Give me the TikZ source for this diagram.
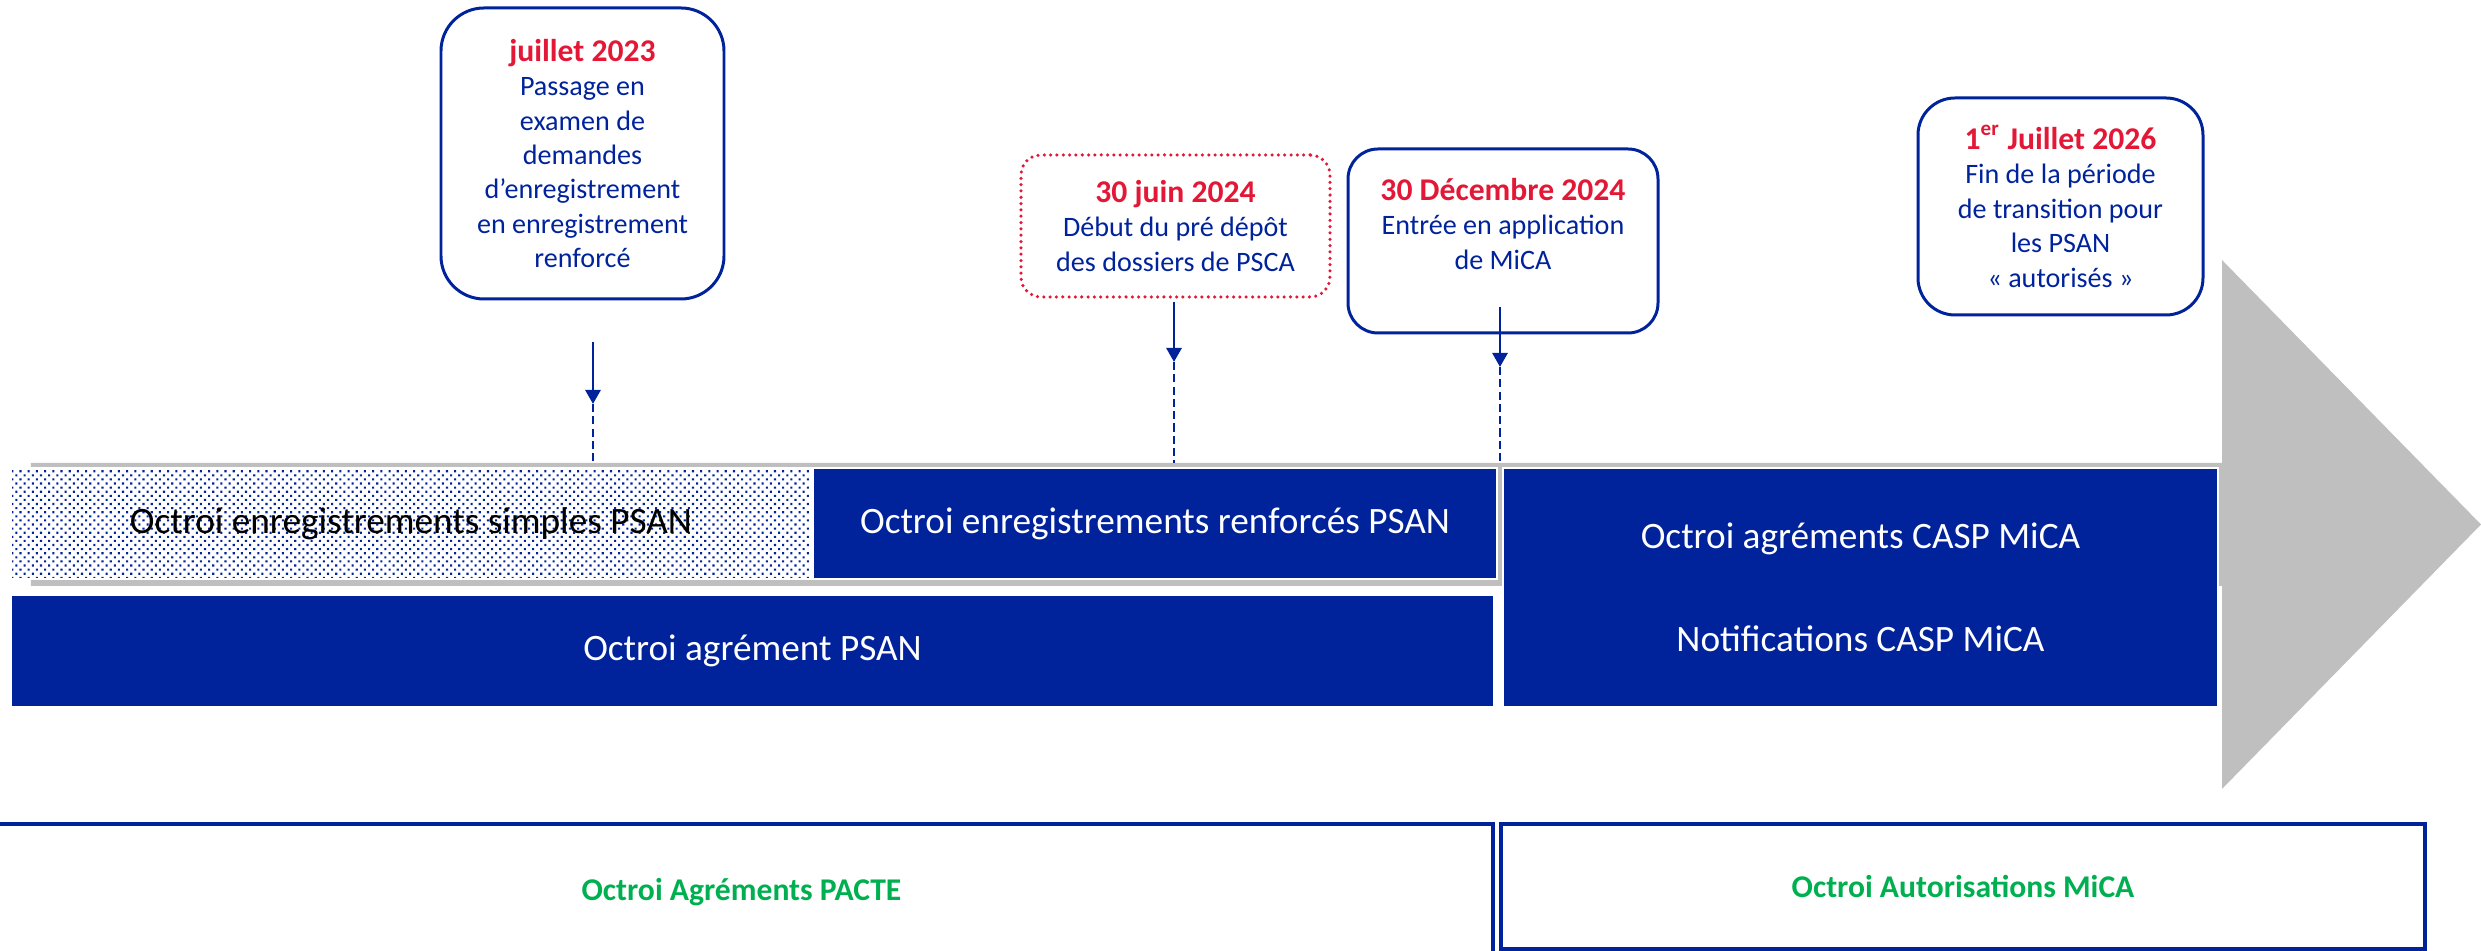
\documentclass[tikz,border=0pt]{standalone}
\usepackage{fontspec}
\setmainfont{Carlito}
\usepackage{xcolor}
\usepackage{tikz}
\usetikzlibrary{arrows.meta,patterns.meta,positioning,calc}
\definecolor{deepblue}{RGB}{0,35,156}
\definecolor{datered}{RGB}{227,24,55}
\definecolor{labelgreen}{RGB}{0,176,80}
\definecolor{arrowgrey}{RGB}{191,191,191}
\tikzset{
    jalon/.style={draw=deepblue, line width=0.85pt, align=center, text=deepblue, inner sep=0pt,
        font=\fontsize{8}{9.8}\selectfont},
    barre/.style={draw=white, line width=0.5pt, fill=deepblue, text=white, align=center, inner sep=0pt,
        font=\fontsize{10.6}{12.9}\selectfont},
    periode/.style={draw=deepblue, line width=0.9pt, text=labelgreen, inner sep=0pt,
        font=\fontsize{9}{11}\selectfont\bfseries},
    fleche/.style={deepblue, line width=0.8pt, -{Triangle[width=0.15cm,length=0.14cm]}},
    pointille/.style={deepblue, line width=0.55pt, dash pattern=on 2.3pt off 1.2pt}
}
\newcommand{\datejalon}[1]{{\fontsize{9}{9.8}\selectfont\bfseries\color{datered}#1}}

\begin{document}
\begin{tikzpicture}
    \useasboundingbox (0,0) rectangle (24.81,-9.51);
    \clip (0,0) rectangle (24.81,-9.51);
    \fill[arrowgrey] (0.31,-4.63) -- (22.22,-4.63) -- (22.22,-2.60) -- (24.81,-5.245)
        -- (22.22,-7.89) -- (22.22,-5.86) -- (0.31,-5.86) -- cycle;

    \node[barre, preaction={fill=white}, fill=none, text=black,
        pattern={Dots[distance=1.65pt, radius=0.42pt, angle=45]}, pattern color=deepblue,
        minimum width=8.0cm, minimum height=1.11cm] at (4.11,-5.235) (simples) {Octroi enregistrements simples PSAN};
    \node[barre, minimum width=6.84cm, minimum height=1.11cm] at (11.55,-5.235) (renforces) {Octroi enregistrements renforcés PSAN};
    \node[barre, minimum width=14.83cm, minimum height=1.12cm] at (7.525,-6.51) (agrement) {Octroi agrément PSAN};
    \node[barre, minimum width=7.15cm, minimum height=2.39cm] at (18.605,-5.875) (casp) {Octroi agréments CASP MiCA\\[0.58cm]Notifications CASP MiCA};

    \node[jalon, rounded corners=0.43cm, minimum width=2.83cm, minimum height=2.91cm] at (5.825,-1.535) (j1) {\datejalon{juillet 2023}\\Passage en\\examen de\\demandes\\d’enregistrement\\en enregistrement\\renforcé};
    \node[jalon, draw=datered, line width=1pt, dash pattern=on 0pt off 1.8pt, line cap=round, rounded corners=0.2cm,
        minimum width=3.09cm, minimum height=1.42cm] at (11.755,-2.26) (j2) {\datejalon{30 juin 2024}\\Début du pré dépôt\\des dossiers de PSCA};
    \node[jalon, rounded corners=0.3cm, minimum width=3.10cm, minimum height=1.84cm] at (15.03,-2.41) (j3) {\datejalon{30 Décembre 2024}\\Entrée en application\\de MiCA\\~};
    \node[jalon, rounded corners=0.37cm, minimum width=2.85cm, minimum height=2.17cm] at (20.605,-2.065) (j4) {\datejalon{1\textsuperscript{er} Juillet 2026}\\Fin de la période\\de transition pour\\les PSAN\\«~autorisés~»};

    \coordinate (d1) at (5.93,-3.42);
    \coordinate (p1) at (5.93,-4.04);
    \coordinate (s1) at (5.93,-4.63);
    \coordinate (d2) at (11.74,-3.02);
    \coordinate (p2) at (11.74,-3.62);
    \coordinate (s2) at (11.74,-4.63);
    \coordinate (d3) at (15.00,-3.07);
    \coordinate (p3) at (15.00,-3.67);
    \coordinate (s3) at (15.00,-4.63);
    \draw[fleche] (d1) -- (p1);
    \draw[fleche] (d2) -- (p2);
    \draw[fleche] (d3) -- (p3);
    \draw[pointille] (p1) -- (s1);
    \draw[pointille] (p2) -- (s2);
    \draw[pointille] (p3) -- (s3);

    \node[periode, minimum width=15.03cm, minimum height=1.36cm] at (7.415,-8.92) (pacte) {Octroi Agréments PACTE};
    \node[periode, minimum width=9.24cm, minimum height=1.25cm] at (19.63,-8.865) (mica) {Octroi Autorisations MiCA};
\end{tikzpicture}
\end{document}
